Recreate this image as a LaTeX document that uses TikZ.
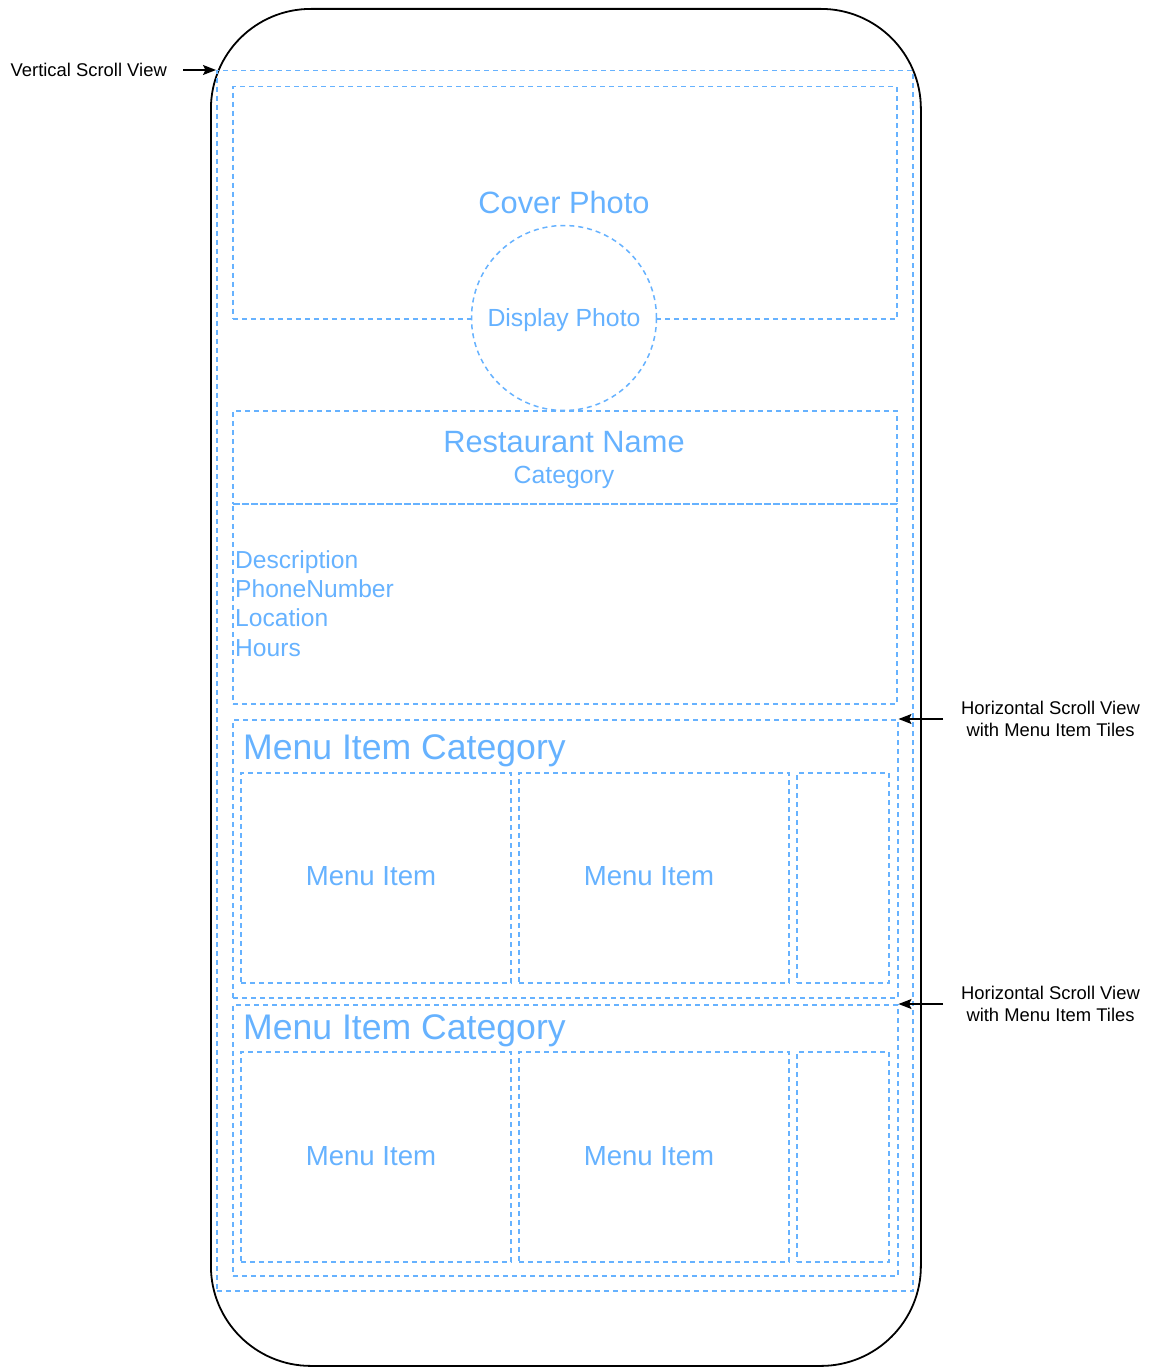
\documentclass[tikz,border=0pt]{standalone}
\usepackage{fontspec}
\setmainfont{Liberation Sans}
\usetikzlibrary{arrows.meta}
\definecolor{uiblue}{HTML}{66B2FF}
\tikzset{
  px/.style={x=1pt,y=-1pt},
  frame/.style={draw=uiblue, line width=1.5pt, dash pattern=on 5pt off 4pt, inner sep=0pt, anchor=north west},
  uitext/.style={text=uiblue, inner sep=0pt},
  note/.style={text=black, inner sep=0pt, font=\fontsize{18.4}{22}\selectfont, align=center},
  pointer/.style={draw=black, line width=1.4pt, -{Stealth[length=13pt,width=10pt,inset=2.5pt]}},
}
\begin{document}
\begin{tikzpicture}[px]
\useasboundingbox (0,0) rectangle (1148,1367);

% phone body
\node[draw=black, line width=1.8pt, rounded corners=100pt, inner sep=0pt, anchor=north west,
      minimum width=710pt, minimum height=1357pt] (phone) at (210,8) {};

% vertical scroll view
\node[frame, minimum width=696pt, minimum height=1220pt] (vsv) at (216,70) {};

% cover photo and display photo
\node[frame, minimum width=664pt, minimum height=232pt] (cover) at (232,86) {};
\node[uitext, font=\fontsize{30.8}{36}\selectfont] (covertxt) at (564,202) {Cover Photo};
\node[circle, draw=uiblue, fill=white, line width=1.5pt, dash pattern=on 5pt off 4pt,
      minimum size=185pt, inner sep=0pt] (dp) at (564,318) {};
\node[uitext, font=\fontsize{24.8}{29}\selectfont] (dptxt) at (564,320) {Display Photo};

% restaurant header
\node[frame, minimum width=664pt, minimum height=93pt] (header) at (232,410) {};
\node[uitext, font=\fontsize{30.8}{36}\selectfont] (rname) at (564,442) {Restaurant Name};
\node[uitext, font=\fontsize{24.8}{29}\selectfont] (rcat) at (564,477) {Category};

% details
\node[frame, minimum width=664pt, minimum height=200pt] (details) at (232,503) {};
\node[uitext, anchor=west, align=left, font=\fontsize{24.6}{29.3}\selectfont] (info) at (235,603.5)
  {Description\\PhoneNumber\\Location\\Hours};

% first menu category
\node[frame, minimum width=665pt, minimum height=278pt] (sec1) at (232,719) {};
\node[uitext, anchor=west, font=\fontsize{35.6}{42}\selectfont] (cat1) at (243,751) {Menu Item Category};
\node[frame, minimum width=270pt, minimum height=210pt] (t11) at (240,772) {};
\node[frame, minimum width=270pt, minimum height=210pt] (t12) at (518,772) {};
\node[frame, minimum width=92pt, minimum height=210pt] (t13) at (796,772) {};
\node[uitext, font=\fontsize{27.6}{32}\selectfont] (m11) at (371,876) {Menu Item};
\node[uitext, font=\fontsize{27.6}{32}\selectfont] (m12) at (649,876) {Menu Item};

% second menu category
\node[frame, minimum width=665pt, minimum height=271pt] (sec2) at (232,1004) {};
\node[uitext, anchor=west, font=\fontsize{35.6}{42}\selectfont] (cat2) at (243,1031) {Menu Item Category};
\node[frame, minimum width=270pt, minimum height=210pt] (t21) at (240,1051) {};
\node[frame, minimum width=270pt, minimum height=210pt] (t22) at (518,1051) {};
\node[frame, minimum width=92pt, minimum height=210pt] (t23) at (796,1051) {};
\node[uitext, font=\fontsize{27.6}{32}\selectfont] (m21) at (371,1156) {Menu Item};
\node[uitext, font=\fontsize{27.6}{32}\selectfont] (m22) at (649,1156) {Menu Item};

% annotations
\node[note, anchor=east, inner xsep=16pt] (vlabel) at (183,70) {Vertical Scroll View};
\draw[pointer] (vlabel.east) -- (vsv.north west);

\node[note, anchor=west, inner xsep=18pt] (hlabel1) at (943,719) {Horizontal Scroll View\\with Menu Item Tiles};
\draw[pointer] (hlabel1.west) -- (sec1.north east);

\node[note, anchor=west, inner xsep=18pt] (hlabel2) at (943,1004) {Horizontal Scroll View\\with Menu Item Tiles};
\draw[pointer] (hlabel2.west) -- (sec2.north east);
\end{tikzpicture}
\end{document}
